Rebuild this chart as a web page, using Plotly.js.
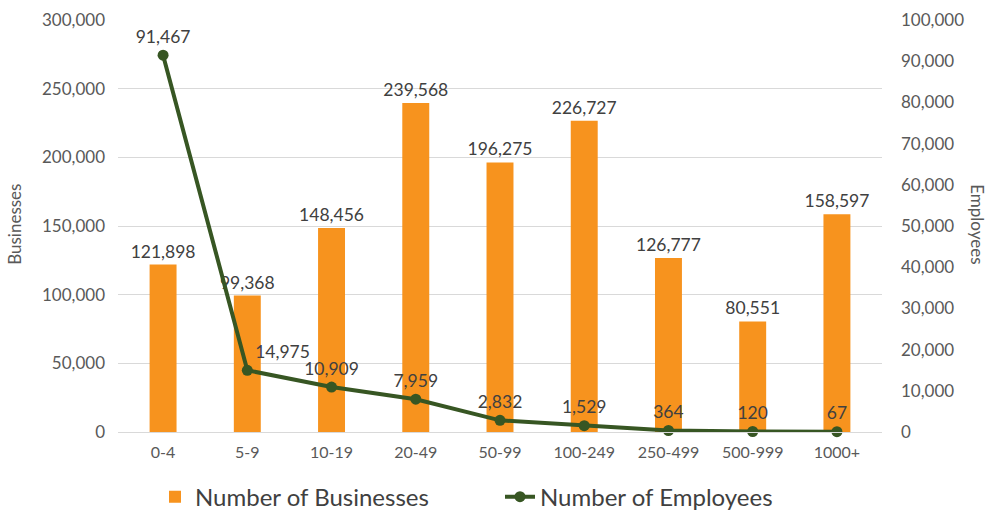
<!DOCTYPE html>
<html><head><meta charset="utf-8">
<script src="https://cdn.plot.ly/plotly-3.0.1.min.js"></script>
<style>body{margin:0;background:#fff}#chart{width:993px;height:512px}</style>
</head><body><div id="chart"></div>
<script>
const categories = ["0-4","5-9","10-19","20-49","50-99","100-249","250-499","500-999","1000+"];
const businesses = [121898, 99368, 148456, 239568, 196275, 226727, 126777, 80551, 158597];
const employees = [91467, 14975, 10909, 7959, 2832, 1529, 364, 120, 67];
const fmt = v => v.toLocaleString('en-US');
const font = "Lato, 'Open Sans', sans-serif";
const lineLabelPos = employees.map((v,i)=> i===1 ? 'top right' : 'top center');

const traces = [
 {type:'bar', x:categories, y:businesses, name:'Number of Businesses',
  marker:{color:'#F7931E'}, text:businesses.map(fmt), textposition:'outside', constraintext:'none',
  textfont:{family:font,size:17.5,color:'#404040'}, cliponaxis:false, yaxis:'y'},
 {type:'scatter', mode:'lines+markers+text', x:categories, y:employees, name:'Number of Employees',
  line:{color:'#375623',width:4}, marker:{color:'#375623',size:11},
  text:employees.map(fmt), textposition:lineLabelPos,
  textfont:{family:font,size:17.5,color:'#404040'}, cliponaxis:false, yaxis:'y2'}
];
const layout = {
 width:993, height:512, margin:{l:118,r:111,t:20,b:80,autoexpand:false},
 paper_bgcolor:'#fff', plot_bgcolor:'#fff',
 font:{family:font,color:'#595959',size:16},
 bargap:0.68,
 xaxis:{type:'category', showgrid:false, zeroline:false, showline:true, linecolor:'#d9d9d9',
   tickfont:{family:font,size:16,color:'#595959'}, ticks:'', ticklabelstandoff:6},
 yaxis:{range:[0,300000], dtick:50000, tickformat:',d', gridcolor:'#d9d9d9', zeroline:false,
   tickfont:{family:font,size:17,color:'#595959'}, ticks:'', ticklen:0, ticklabelstandoff:12},
 yaxis2:{overlaying:'y', side:'right', range:[0,100000], dtick:10000, tickformat:',d', showgrid:false, zeroline:false,
   tickfont:{family:font,size:17,color:'#595959'}, ticks:'', ticklabelstandoff:18},
 annotations:[
  {text:'Employees', textangle:90, xref:'paper', yref:'paper', x:1.124, y:0.505,
   xanchor:'center', yanchor:'middle', showarrow:false, font:{family:font,size:17,color:'#595959'}},
  {text:'Businesses', textangle:-90, xref:'paper', yref:'paper', x:-0.135, y:0.505,
   xanchor:'center', yanchor:'middle', showarrow:false, font:{family:font,size:17,color:'#595959'}}],
 legend:{orientation:'h', x:0.5, xanchor:'center', y:-0.158, yanchor:'middle',
   font:{family:font,size:24,color:'#404040'}, entrywidth:300},
 showlegend:true
};
Plotly.newPlot('chart', traces, layout, {displayModeBar:false});
</script></body></html>
